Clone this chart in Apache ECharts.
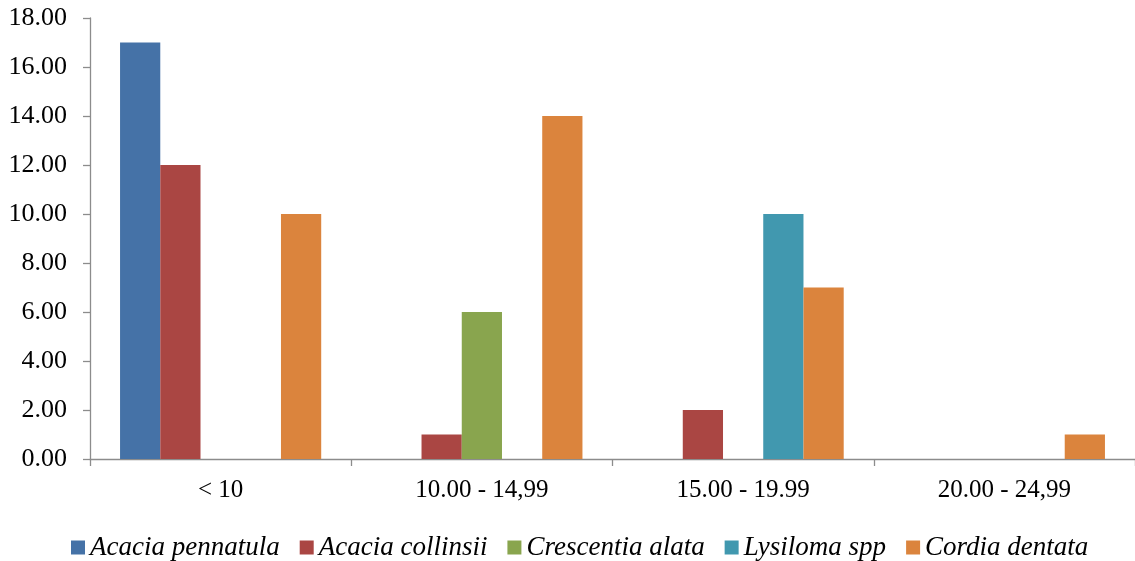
<!DOCTYPE html>
<html>
<head>
<meta charset="utf-8">
<script src="https://cdn.jsdelivr.net/npm/echarts@6/dist/echarts.min.js"></script>
<style>
  html, body { margin: 0; padding: 0; background: #ffffff; }
  #chart { width: 1135px; height: 561px; }
</style>
</head>
<body>
<div id="chart"></div>
<script>
// Diameter classes (cm)
const categories = ['< 10', '10.00 - 14,99', '15.00 - 19.99', '20.00 - 24,99'];

// Number of trees per species in each class
const acaciaPennatula = [17, 0, 0, 0];
const acaciaCollinsii = [12, 1, 2, 0];
const crescentiaAlata = [0, 6, 0, 0];
const lysilomaSpp = [0, 0, 10, 0];
const cordiaDentata = [10, 14, 7, 1];

const speciesNames = ['Acacia pennatula', 'Acacia collinsii', 'Crescentia alata', 'Lysiloma spp', 'Cordia dentata'];
const speciesValues = [acaciaPennatula, acaciaCollinsii, crescentiaAlata, lysilomaSpp, cordiaDentata];
const speciesColors = ['#4572A7', '#AA4643', '#89A54E', '#4198AF', '#DB843D'];

const FONT = '"Liberation Serif", "Times New Roman", serif';
const AXIS_GRAY = '#8c8c8c';

const chart = echarts.init(document.getElementById('chart'), null, { renderer: 'canvas' });

chart.setOption({
  animation: false,
  backgroundColor: '#ffffff',
  textStyle: { fontFamily: FONT, color: '#000' },
  grid: { left: 90, top: 18, width: 1048, height: 441, containLabel: false },
  legend: {
    top: 529,
    left: 66,
    itemWidth: 14,
    itemHeight: 14,
    itemGap: 20,
    icon: 'rect',
    textStyle: { fontFamily: FONT, fontSize: 27, fontStyle: 'italic', color: '#000' },
    data: speciesNames
  },
  xAxis: {
    type: 'category',
    data: categories,
    axisLine: { lineStyle: { color: AXIS_GRAY, width: 1.3 } },
    axisTick: { show: true, length: 7, lineStyle: { color: AXIS_GRAY, width: 1.3 } },
    axisLabel: { fontFamily: FONT, fontSize: 25, color: '#000', margin: 19 },
    splitLine: { show: false }
  },
  yAxis: {
    type: 'value',
    min: 0,
    max: 18,
    interval: 2,
    axisLine: { show: true, lineStyle: { color: AXIS_GRAY, width: 1.3 } },
    axisTick: { show: true, length: 7, lineStyle: { color: AXIS_GRAY, width: 1.3 } },
    axisLabel: {
      fontFamily: FONT,
      fontSize: 26,
      color: '#000',
      margin: 23,
      formatter: v => v.toFixed(2)
    },
    splitLine: { show: false }
  },
  series: speciesNames.map((name, i) => ({
    name: name,
    type: 'bar',
    data: speciesValues[i],
    barGap: '0%',
    barCategoryGap: '23%',
    itemStyle: { color: speciesColors[i] }
  }))
});
</script>
</body>
</html>
